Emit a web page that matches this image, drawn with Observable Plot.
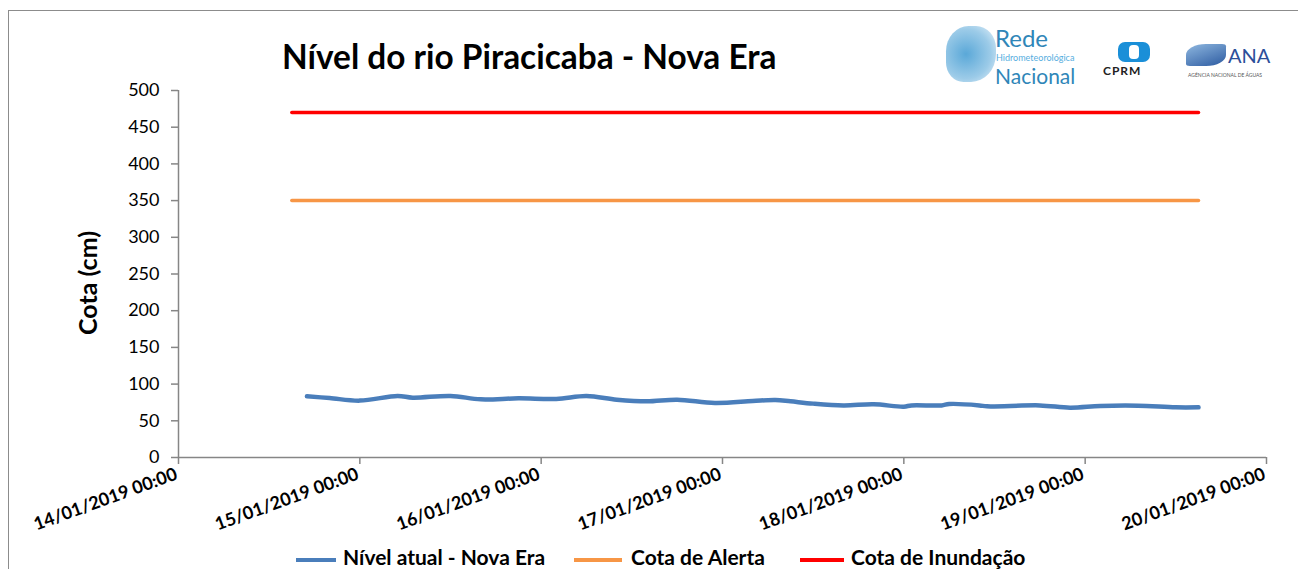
<!DOCTYPE html>
<html><head><meta charset="utf-8">
<script src="https://cdn.jsdelivr.net/npm/d3@7"></script>
<script src="https://cdn.jsdelivr.net/npm/@observablehq/plot@0.6"></script>
<style>
body{margin:0;background:#fff;width:1298px;height:569px;overflow:hidden;position:relative;font-family:Lato,"Open Sans",sans-serif;}
#frame{position:absolute;left:8px;top:10px;width:1400px;height:700px;border:1.5px solid #8c8c8c;}
#chart{position:absolute;left:0;top:0;}
#title{position:absolute;left:282px;top:36px;font-size:33.4px;line-height:40px;font-weight:bold;color:#000;white-space:nowrap;}
.leg{position:absolute;top:544px;font-size:21px;line-height:25px;font-weight:bold;white-space:nowrap;color:#000;}
.sw{position:absolute;top:558px;height:4px;}
.logo{position:absolute;white-space:nowrap;}
</style></head>
<body>
<div id="frame"></div>
<div id="chart"></div>
<div id="title">Nível do rio Piracicaba - Nova Era</div>
<div class="logo" style="left:946px;top:26px;width:50px;height:56px;border-radius:45% 40% 50% 35%;background:radial-gradient(circle at 40% 50%,#5aa8d8 0%,#9ccbe8 60%,#e6f2fa 100%);"></div>
<div class="logo" style="left:995px;top:23px;font-size:24px;line-height:29px;color:#2f86b8;">Rede</div>
<div class="logo" style="left:996px;top:52px;font-size:9px;line-height:11px;color:#57aee0;">Hidrometeorológica</div>
<div class="logo" style="left:995px;top:63px;font-size:21px;line-height:25px;color:#2f86b8;">Nacional</div>
<div class="logo" style="left:1118px;top:42px;width:32px;height:20px;border-radius:7px;background:#1a8fd8;"></div>
<div class="logo" style="left:1129px;top:45px;width:10px;height:14px;border-radius:4px;background:#fff;"></div>
<div class="logo" style="left:1103px;top:64px;font-size:12px;line-height:14px;font-weight:bold;color:#222;letter-spacing:1px;">CPRM</div>
<div class="logo" style="left:1186px;top:44px;width:40px;height:22px;border-radius:50% 10% 50% 10%;background:linear-gradient(160deg,#8fb8e0,#2c5aa0);"></div>
<div class="logo" style="left:1228px;top:43px;font-size:20px;line-height:24px;color:#2c4f9a;">ANA</div>
<div class="logo" style="left:1188px;top:72px;font-size:5px;line-height:6px;color:#555;">AGÊNCIA NACIONAL DE ÁGUAS</div>
<div class="sw" style="left:296px;width:40px;background:#4a7ebb;"></div>
<div class="leg" style="left:343px;">Nível atual - Nova Era</div>
<div class="sw" style="left:574px;width:48px;background:#f79646;"></div>
<div class="leg" style="left:631px;">Cota de Alerta</div>
<div class="sw" style="left:800px;width:44px;background:#ff0000;"></div>
<div class="leg" style="left:851px;">Cota de Inundação</div>
<script>
// ---- data ----
const levelTimes = ["2019-01-14T17:00","2019-01-14T20:00","2019-01-15T00:00","2019-01-15T05:00","2019-01-15T07:00","2019-01-15T12:00","2019-01-15T16:00","2019-01-15T21:00","2019-01-16T02:00","2019-01-16T06:00","2019-01-16T10:00","2019-01-16T14:00","2019-01-16T18:00","2019-01-16T23:00","2019-01-17T04:00","2019-01-17T07:00","2019-01-17T09:00","2019-01-17T12:00","2019-01-17T16:00","2019-01-17T20:00","2019-01-18T00:00","2019-01-18T01:00","2019-01-18T05:00","2019-01-18T06:00","2019-01-18T10:00","2019-01-18T11:00","2019-01-18T18:00","2019-01-18T22:00","2019-01-19T02:00","2019-01-19T07:00","2019-01-19T12:00","2019-01-19T15:00"];
const levelValues = [83.3,81,77.5,83.9,81.5,83.9,79.2,80.6,79.8,83.9,78.8,76.5,78.8,74.3,77,78.4,76.5,73.4,71,72.4,69.3,71,71,72.9,71,69.7,71,67.9,70.2,70.6,68.3,68.3];
const thresholdTimes = ["2019-01-14T15:00","2019-01-19T15:00"];
const alertLevel = 350;
const floodLevel = 470;
const xTickTimes = ["2019-01-14T00:00","2019-01-15T00:00","2019-01-16T00:00","2019-01-17T00:00","2019-01-18T00:00","2019-01-19T00:00","2019-01-20T00:00"];
const xTickLabels = ["14/01/2019 00:00","15/01/2019 00:00","16/01/2019 00:00","17/01/2019 00:00","18/01/2019 00:00","19/01/2019 00:00","20/01/2019 00:00"];
const yTicks = [0,50,100,150,200,250,300,350,400,450,500];
const yLabel = "Cota (cm)";

const parse = d3.utcParse("%Y-%m-%dT%H:%M");
const level = levelTimes.map((t,i)=>({t:parse(t), v:levelValues[i]}));
const alert = thresholdTimes.map(t=>({t:parse(t), v:alertLevel}));
const flood = thresholdTimes.map(t=>({t:parse(t), v:floodLevel}));
const xTicks = xTickTimes.map(parse);
const tickData = xTicks.map((t,i)=>({t, label:xTickLabels[i]}));
const axisColor = "#868686";
const font = 'Lato,"Open Sans",sans-serif';

const chart = Plot.plot({
  width:1298, height:569,
  marginTop:90, marginBottom:112, marginLeft:178, marginRight:32,
  style:{fontFamily:font, background:"transparent", overflow:"visible"},
  x:{type:"utc", domain:[xTicks[0], xTicks[xTicks.length-1]], axis:null},
  y:{domain:[0,500], axis:null},
  marks:[
    Plot.ruleX([xTicks[0]], {stroke:axisColor, strokeWidth:1.5}),
    Plot.ruleY([0], {stroke:axisColor, strokeWidth:1.5}),
    Plot.axisY({ticks:yTicks, tickSize:7, tickPadding:12, stroke:axisColor, strokeWidth:1.5, fontSize:18, fill:"#000", label:null}),
    Plot.ruleX(xTicks, {x:d=>d, y1:0, y2:0, insetTop:7, stroke:axisColor, strokeWidth:1.5}),
    Plot.text(tickData, {x:"t", y:0, text:"label", rotate:-20, textAnchor:"end", lineAnchor:"middle", dy:16, dx:-2, fontSize:18, fontWeight:"bold", fill:"#000"}),
    Plot.line(flood, {x:"t", y:"v", stroke:"#ff0000", strokeWidth:3.5}),
    Plot.line(alert, {x:"t", y:"v", stroke:"#f79646", strokeWidth:3.5}),
    Plot.line(level, {x:"t", y:"v", stroke:"#4a7ebb", strokeWidth:4.5, curve:"catmull-rom", strokeLinecap:"round"}),
    Plot.text([yLabel], {frameAnchor:"left", textAnchor:"middle", dx:-90, dy:9, rotate:-90, fontSize:25, fontWeight:"bold", fill:"#000", text:d=>d})
  ]
});
document.getElementById("chart").appendChild(chart);
</script>
</body></html>
